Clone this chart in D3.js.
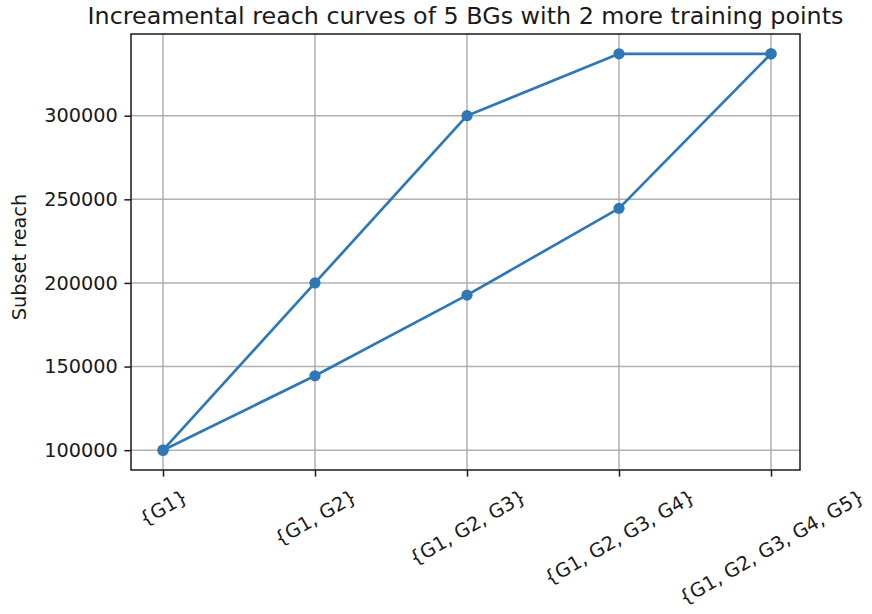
<!DOCTYPE html>
<html>
<head>
<meta charset="utf-8">
<script src="https://cdn.jsdelivr.net/npm/d3@7"></script>
<style>
  html, body { margin: 0; padding: 0; background: #fff; }
  svg { display: block; font-family: "DejaVu Sans", sans-serif; }
</style>
</head>
<body>
<svg id="chart" width="872" height="614"></svg>
<script>
const categories = ["{G1}", "{G1, G2}", "{G1, G2, G3}", "{G1, G2, G3, G4}", "{G1, G2, G3, G4, G5}"];
const upperSeries = [100000, 200000, 300000, 337000, 337000];
const lowerSeries = [100000, 144500, 192700, 244600, 337000];
const yTicks = [100000, 150000, 200000, 250000, 300000];
const titleText = "Increamental reach curves of 5 BGs with 2 more training points";
const yLabel = "Subset reach";

(function() {
const svg = d3.select("#chart");
const mLeft = 131, mRight = 800, mTop = 34, mBottom = 470;
const fs = 19.3;

const allVals = upperSeries.concat(lowerSeries);
const yMin = d3.min(allVals), yMax = d3.max(allVals);
const yPad = (yMax - yMin) * 0.05;
const x = d3.scaleLinear().domain([0, categories.length - 1]).range([163, 771]);
const y = d3.scaleLinear().domain([yMin - yPad, yMax + yPad]).range([mBottom, mTop]);

const ink = "#1a1a1a";
const gridColor = "#b0b0b0";

// grid
const grid = svg.append("g");
grid.selectAll("line.vx").data(categories).enter().append("line")
  .attr("x1", (d, i) => x(i)).attr("x2", (d, i) => x(i))
  .attr("y1", mTop).attr("y2", mBottom)
  .attr("stroke", gridColor).attr("stroke-width", 1.5);
grid.selectAll("line.hy").data(yTicks).enter().append("line")
  .attr("x1", mLeft).attr("x2", mRight)
  .attr("y1", d => y(d)).attr("y2", d => y(d))
  .attr("stroke", gridColor).attr("stroke-width", 1.5);

// y axis
const yAxis = d3.axisLeft(y).tickValues(yTicks).tickFormat(d3.format("d")).tickSize(6.6).tickPadding(6.6);
const yg = svg.append("g").attr("transform", `translate(${mLeft},0)`).call(yAxis);
yg.select(".domain").remove();
yg.selectAll(".tick line").attr("stroke", ink).attr("stroke-width", 1.5);
yg.selectAll(".tick text").attr("fill", ink).style("font-size", fs + "px").style("font-family", "DejaVu Sans");

// x axis
const xAxis = d3.axisBottom(x).tickValues(d3.range(categories.length)).tickFormat(i => categories[i]).tickSize(6.6).tickPadding(6.6);
const xg = svg.append("g").attr("transform", `translate(0,${mBottom})`).call(xAxis);
xg.select(".domain").remove();
xg.selectAll(".tick line").attr("stroke", ink).attr("stroke-width", 1.5);
xg.selectAll(".tick text").each(function() {
  const t = d3.select(this);
  t.style("font-size", fs + "px").style("font-family", "DejaVu Sans").attr("fill", ink);
  const w = this.getComputedTextLength();
  const h = fs * 1.16;
  const a = Math.PI / 6;
  const bh = w * Math.sin(a) + h * Math.cos(a);
  const cy = 6.6 + 6.6 + bh / 2 + 2;
  t.attr("y", null).attr("dy", null)
    .attr("text-anchor", "middle")
    .attr("dominant-baseline", "central")
    .attr("transform", `translate(0,${cy}) rotate(-30)`);
});

// frame
svg.append("rect").attr("x", mLeft).attr("y", mTop).attr("width", mRight - mLeft).attr("height", mBottom - mTop)
  .attr("fill", "none").attr("stroke", ink).attr("stroke-width", 1.5);

// lines
const color = "#2f78b8";
const line = d3.line().x((d, i) => x(i)).y(d => y(d));
[upperSeries, lowerSeries].forEach(s => {
  svg.append("path").datum(s).attr("d", line).attr("fill", "none")
    .attr("stroke", color).attr("stroke-width", 2.7).attr("stroke-linejoin", "round");
  svg.append("g").selectAll("circle").data(s).enter().append("circle")
    .attr("cx", (d, i) => x(i)).attr("cy", d => y(d)).attr("r", 5.6).attr("fill", color);
});

// title
svg.append("text").attr("x", (mLeft + mRight) / 2).attr("y", 24)
  .attr("text-anchor", "middle").attr("fill", ink)
  .style("font-size", "23.8px").text(titleText);

// y label
svg.append("text").attr("transform", `translate(26,${(mTop + mBottom) / 2 + 5}) rotate(-90)`)
  .attr("text-anchor", "middle").attr("fill", ink)
  .style("font-size", fs + "px").text(yLabel);
})();
</script>
</body>
</html>
